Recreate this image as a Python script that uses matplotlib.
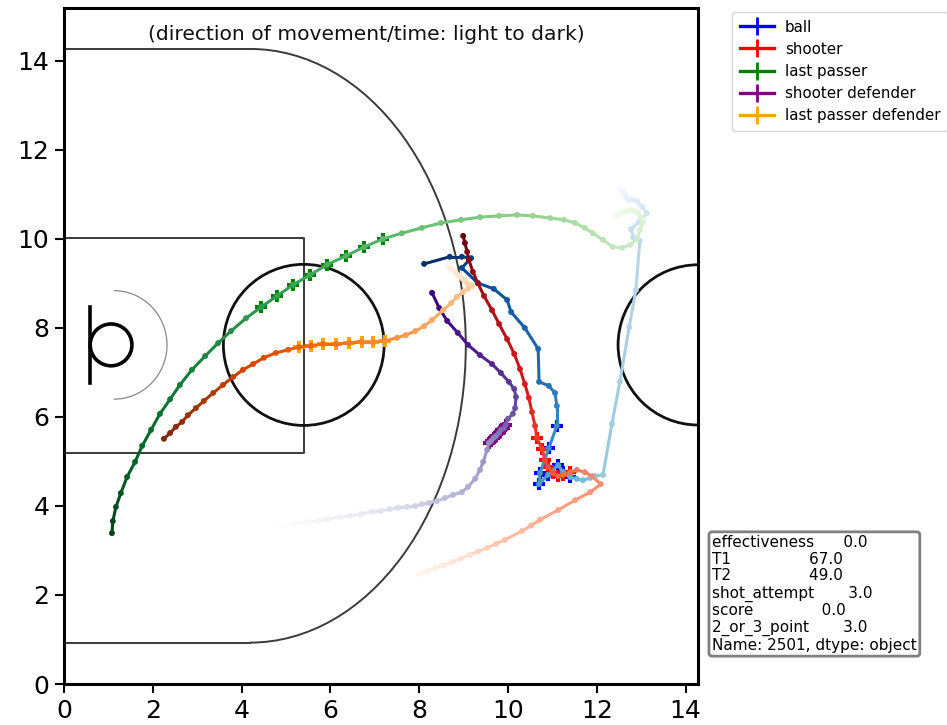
import numpy as np
import matplotlib
matplotlib.use("Agg")
import matplotlib.pyplot as plt
from matplotlib.collections import LineCollection
from matplotlib.lines import Line2D
from matplotlib.patches import Arc, Circle

ball_x = [12.50, 12.54, 12.59, 12.65, 12.70, 12.80, 12.91, 13.02, 13.13, 12.95, 12.77, 12.82, 12.97, 12.88, 12.73, 12.52, 12.34, 12.14,
          11.96, 11.85, 11.69, 11.55, 11.40, 11.24, 11.13, 10.90, 10.70, 10.72, 10.92, 11.10, 11.10, 11.06,
          10.92, 10.70, 10.68, 10.38, 10.07, 9.98, 9.68, 9.32, 8.96, 9.17, 8.96, 8.69, 8.11]
ball_y = [11.12, 11.10, 11.06, 10.97, 10.88, 10.88, 10.85, 10.72, 10.58, 10.38, 10.22, 10.04, 9.96, 8.85, 8.02, 6.79, 5.84, 4.70,
          4.67, 4.63, 4.58, 4.61, 4.65, 4.76, 4.92, 4.70, 4.49, 4.74, 5.30, 5.80, 6.25, 6.54,
          6.70, 6.79, 7.53, 8.00, 8.36, 8.63, 8.88, 9.01, 9.35, 9.57, 9.60, 9.60, 9.44]

shooter_x = [8.00, 8.18, 8.36, 8.55, 8.74, 8.94, 9.14, 9.33, 9.53, 9.73, 9.93, 10.32, 10.52, 10.72, 11.13, 11.51, 11.85, 12.09, 11.89, 11.73,
             11.55, 11.40, 11.24, 11.13, 11.01, 10.90, 10.83, 10.77, 10.65, 10.61, 10.54, 10.47, 10.38,
             10.27, 10.14, 9.98, 9.80, 9.64, 9.46, 9.32, 9.21, 9.12, 9.08, 9.03, 8.99]
shooter_y = [2.47, 2.54, 2.61, 2.67, 2.74, 2.82, 2.90, 2.98, 3.06, 3.15, 3.24, 3.44, 3.56, 3.69, 3.91, 4.13, 4.31, 4.49, 4.67, 4.76,
             4.81, 4.76, 4.70, 4.67, 4.74, 4.88, 5.03, 5.28, 5.53, 5.80, 6.11, 6.43, 6.74,
             7.08, 7.42, 7.75, 8.09, 8.40, 8.72, 9.01, 9.26, 9.53, 9.71, 9.91, 10.07]

passer_x = [12.40, 12.45, 12.50, 12.55, 12.65, 12.75, 12.85, 12.93, 13.00, 13.04, 12.97, 12.91, 12.75, 12.57, 12.36, 12.14, 11.91, 11.73, 11.51, 11.26,
            10.95, 10.56, 10.20, 9.80, 9.37, 8.94, 8.49, 8.06, 7.61, 7.18, 6.76, 6.35, 5.92, 5.54, 5.16,
            4.80, 4.44, 4.10, 3.76, 3.47, 3.18, 2.88, 2.61, 2.39, 2.16, 1.96, 1.76, 1.60, 1.42, 1.28,
            1.17, 1.10, 1.08]
passer_y = [10.50, 10.52, 10.55, 10.58, 10.62, 10.65, 10.63, 10.58, 10.48, 10.38, 10.20, 10.00, 9.87, 9.80, 9.82, 9.98, 10.13, 10.25, 10.36, 10.43,
            10.47, 10.52, 10.54, 10.52, 10.49, 10.43, 10.36, 10.25, 10.13, 10.00, 9.82, 9.62, 9.42, 9.19, 8.97,
            8.72, 8.47, 8.22, 7.93, 7.66, 7.37, 7.06, 6.72, 6.40, 6.07, 5.71, 5.35, 4.99, 4.65, 4.29,
            3.98, 3.66, 3.39]

shooter_def_x = [4.91, 5.20, 5.47, 5.72, 5.95, 6.22, 6.44, 6.69, 6.94, 7.14, 7.34, 7.52, 7.73, 7.91, 8.06,
                 8.22, 8.40, 8.58, 8.76, 8.96, 9.10, 9.26, 9.37, 9.44, 9.53, 9.57, 9.62, 9.68, 9.73, 9.80,
                 9.84, 9.91, 9.95, 10.00, 10.11, 10.16, 10.18, 10.14, 10.02, 9.84, 9.64, 9.37, 9.10, 8.87,
                 8.63, 8.45, 8.29]
shooter_def_y = [3.57, 3.60, 3.64, 3.66, 3.71, 3.75, 3.78, 3.82, 3.87, 3.89, 3.93, 3.96, 3.98, 4.00, 4.04,
                 4.07, 4.11, 4.18, 4.25, 4.31, 4.43, 4.61, 4.81, 4.99, 5.26, 5.42, 5.46, 5.53, 5.57, 5.64,
                 5.71, 5.75, 5.82, 5.96, 6.07, 6.20, 6.45, 6.63, 6.79, 6.99, 7.19, 7.39, 7.62, 7.89,
                 8.16, 8.45, 8.79]

passer_def_x = [8.65, 8.68, 8.72, 8.76, 8.81, 8.85, 8.90, 8.96, 9.02, 9.08, 9.14, 9.19, 9.10, 8.99, 8.85, 8.72, 8.54, 8.29, 8.11, 7.91, 7.70, 7.50, 7.23, 6.96,
                6.71, 6.42, 6.13, 5.83, 5.56, 5.29, 5.05, 4.77, 4.50, 4.26, 4.03, 3.81, 3.58, 3.36, 3.15,
                2.97, 2.79, 2.66, 2.52, 2.39, 2.25]
passer_def_y = [9.39, 9.36, 9.33, 9.29, 9.26, 9.21, 9.17, 9.12, 9.06, 9.01, 8.97, 8.94, 8.88, 8.81, 8.70, 8.56, 8.40, 8.18, 8.04, 7.93, 7.84, 7.78, 7.71, 7.69,
                7.69, 7.66, 7.64, 7.64, 7.60, 7.57, 7.51, 7.44, 7.33, 7.19, 7.06, 6.90, 6.72, 6.54, 6.36,
                6.20, 6.04, 5.89, 5.78, 5.64, 5.51]

labels = ["ball", "shooter", "last passer", "shooter defender", "last passer defender"]
cross_colors = ["blue", "red", "green", "purple", "orange"]
cmaps = ["Blues", "Reds", "Greens", "Purples", "Oranges"]
tracks = [(ball_x, ball_y), (shooter_x, shooter_y), (passer_x, passer_y),
          (shooter_def_x, shooter_def_y), (passer_def_x, passer_def_y)]
# samples shown with a cross
cross_slices = [(22, 30), (21, 29), (29, 37), (25, 33), (22, 30)]

info = ("effectiveness      0.0\n"
        "T1                67.0\n"
        "T2                49.0\n"
        "shot_attempt       3.0\n"
        "score              0.0\n"
        "2_or_3_point       3.0\n"
        "Name: 2501, dtype: object")

W, H = 947, 725
fig = plt.figure(figsize=(W / 100, H / 100), dpi=100)
ax = fig.add_axes([64 / W, 1 - 684 / H, (698 - 64) / W, (684 - 8) / H])
ax.set_xlim(0, 14.28)
ax.set_ylim(0, 15.19)

# court
court = "#3a3a3a"
ax.plot([0, 4.19], [14.27, 14.27], color=court, lw=1.4, zorder=1)
ax.plot([0, 4.19], [0.93, 0.93], color=court, lw=1.4, zorder=1)
ax.add_patch(Arc((4.19, 7.6), 9.72, 13.34, theta1=-90, theta2=90, color=court, lw=1.4, zorder=1))
ax.plot([0, 5.4, 5.4, 0], [10.03, 10.03, 5.18, 5.18], color=court, lw=1.4, zorder=1)
ax.add_patch(Circle((5.4, 7.62), 1.81, fill=False, ec="#111111", lw=2, zorder=1))
ax.add_patch(Circle((14.28, 7.62), 1.8, fill=False, ec="#111111", lw=2, zorder=1))
ax.add_patch(Circle((1.06, 7.62), 0.47, fill=False, ec="black", lw=2.6, zorder=1))
ax.plot([0.59, 0.59], [6.76, 8.47], color="black", lw=2.6, zorder=1)
ax.add_patch(Arc((1.12, 7.62), 2.4, 2.44, theta1=-90, theta2=90, color="#888888", lw=0.9, zorder=1))

# crosses first, the tracks go on top of them
for (x, y), (start, stop), c in zip(tracks, cross_slices, cross_colors):
    ax.plot(x[start:stop], y[start:stop], "+", color=c, ms=9, mew=3, zorder=2)

for (x, y), cmap_name in zip(tracks, cmaps):
    pts = np.column_stack([x, y])
    colors = plt.get_cmap(cmap_name)(np.linspace(0, 1, len(pts)))
    segs = np.stack([pts[:-1], pts[1:]], axis=1)
    ax.add_collection(LineCollection(segs, colors=colors[1:], linewidths=2.2, zorder=3))
    ax.scatter(pts[:, 0], pts[:, 1], c=colors, s=18, linewidths=0, zorder=3)

ax.text(6.81, 14.6, "(direction of movement/time: light to dark)", fontsize=14.6,
        ha="center", va="center", color="#111111")

ax.set_xticks(range(0, 15, 2))
ax.set_yticks(range(0, 15, 2))
ax.tick_params(labelsize=18, width=1.5, length=6.5, pad=4)
for spine in ax.spines.values():
    spine.set_linewidth(2.2)

handles = [Line2D([], [], color=c, lw=2.4, marker="+", ms=13, mew=2) for c in cross_colors]
fig.legend(handles, labels, loc="upper left", bbox_to_anchor=(732 / W, 1 - 12 / H), fontsize=10.9,
           handlelength=2.3, labelspacing=0.47, borderaxespad=0, borderpad=0.5, handletextpad=0.7)

fig.text(712 / W, 1 - 594 / H, info, fontsize=11, ha="left", va="center", linespacing=1.15,
         bbox=dict(boxstyle="round,pad=0.2", fc="white", ec="gray", lw=2))

fig.savefig("out.png", dpi=100)
